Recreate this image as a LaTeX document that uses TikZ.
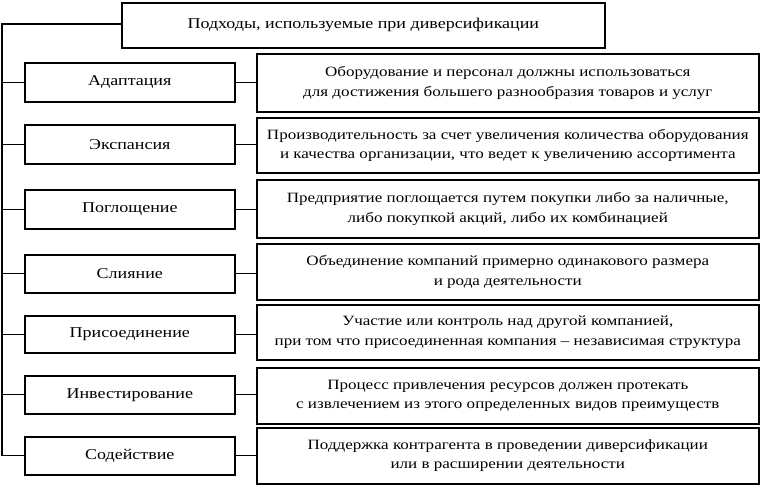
\documentclass[tikz,border=0pt]{standalone}
\usepackage{fontspec}
\setmainfont[FakeStretch=1.2]{Liberation Serif}
\begin{document}
\begin{tikzpicture}[x=1pt,y=-1pt,
  box/.style={draw,line width=1.6pt,inner sep=0pt,anchor=north west,align=center,font=\fontsize{14.2}{19.5}\selectfont},
  lbox/.style={box,font=\fontsize{15}{19}\selectfont},
  conn/.style={line width=1.3pt}]
\useasboundingbox (0,0) rectangle (760,485);
\node[lbox,minimum width=483pt,minimum height=45pt] (top) at (121,2) {Подходы, используемые при диверсификации};
\foreach \i/\ly/\lh/\ry/\rh/\lt/\rt in {
 1/62/39/53/58/Адаптация/{Оборудование и персонал должны использоваться\\для достижения большего разнообразия товаров и услуг},
 2/124/39/117/55/Экспансия/{Производительность за счет увеличения количества оборудования\\и качества организации, что ведет к увеличению ассортимента},
 3/189/39/179/58/Поглощение/{Предприятие поглощается путем покупки либо за наличные,\\либо покупкой акций, либо их комбинацией},
 4/254/38/243/56/Слияние/{Объединение компаний примерно одинакового размера\\и рода деятельности},
 5/315/37/304/55/Присоединение/{Участие или контроль над другой компанией,\\при том что присоединенная компания -- независимая структура},
 6/375/38/367/56/Инвестирование/{Процесс привлечения ресурсов должен протекать\\с извлечением из этого определенных видов преимуществ},
 7/436/38/427/56/Содействие/{Поддержка контрагента в проведении диверсификации\\или в расширении деятельности}}{
  \node[lbox,minimum width=210pt,minimum height=\lh pt] (l\i) at (24,\ly) {\lt};
  \node[box,minimum width=502pt,minimum height=\rh pt] (r\i) at (256,\ry) {\rt};
  \draw[conn] (l\i.east) -- (r\i.west|-l\i.east);
}
\coordinate (c0) at (2,24);
\draw[conn] (top.west|-c0) -- (c0) -- (c0|-l7.west) -- (l7.west);
\foreach \i in {1,...,6}{\draw[conn] (c0|-l\i.west) -- (l\i.west);}
\end{tikzpicture}
\end{document}
